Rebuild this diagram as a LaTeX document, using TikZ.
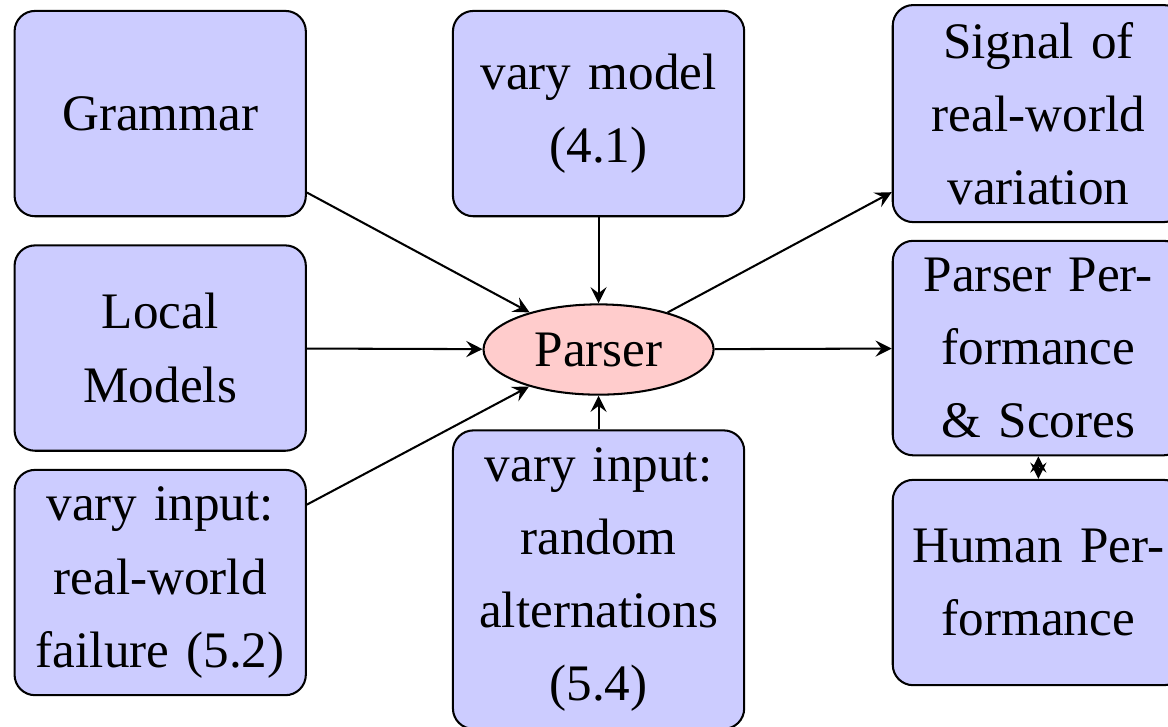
\documentclass[tikz,border=0pt]{standalone}
\usepackage{fontspec}
\setmainfont{Liberation Serif}
\usetikzlibrary{shapes.geometric}
\tikzset{
    box/.style={draw, fill=blue!20, rounded corners, minimum width=2cm,
        minimum height=1.41cm, text width=1.75cm, align=center,
        font=\fontsize{10}{14.3}\selectfont},
    parsernode/.style={draw, ellipse, fill=red!20, minimum width=1.58cm,
        minimum height=0.62cm, inner sep=0pt, font=\fontsize{10}{14.3}\selectfont}
}
\begin{document}
\begin{tikzpicture}
        \useasboundingbox (0, 0) rectangle (8.02, 4.99);
        \node[parsernode] (parser) at (4.11, 2.59) {Parser};
        \node[box] (grammar) at (1.10, 4.21) {Grammar};
        \node[box] (local) at (1.10, 2.60) {Local Models};
        \node[box] (failure) at (1.10, 0.99) {vary input: real-world failure (5.2)};
        \node[box] (model) at (4.11, 4.21) {vary model (4.1)};
        \node[box] (random) at (4.11, 1.01) {vary input: random alternations (5.4)};
        \node[box] (signal) at (7.13, 4.21) {Signal of real-world variation};
        \node[box] (perf) at (7.13, 2.60) {Parser Performance \& Scores};
        \node[box] (human) at (7.13, 0.99) {Human Performance};
        \draw[-stealth] (grammar) -- (parser);
        \draw[-stealth] (local) -- (parser);
        \draw[-stealth] (failure) -- (parser);
        \draw[-stealth] (model) -- (parser);
        \draw[-stealth] (random) -- (parser);
        \draw[-stealth] (parser) -- (signal);
        \draw[-stealth] (parser) -- (perf);
        \draw[stealth-stealth] (perf) -- (human);
    \end{tikzpicture}
\end{document}
